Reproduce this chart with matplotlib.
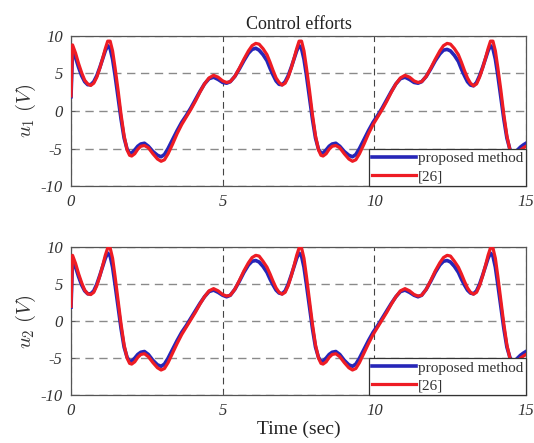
import matplotlib
matplotlib.use("Agg")
import matplotlib.pyplot as plt

plt.rcParams['mathtext.fontset'] = 'cm'
plt.rcParams['font.family'] = ['Liberation Serif', 'DejaVu Serif']

# time samples (s)
t = [0.00, 0.05, 0.15, 0.25, 0.35, 0.45, 0.55, 0.65, 0.75, 0.85, 0.95, 1.05, 1.13, 1.21, 1.29, 1.37,
     1.45, 1.55, 1.65, 1.75, 1.85, 1.93, 2.00, 2.10, 2.20, 2.30, 2.42, 2.55, 2.70, 2.85, 2.97, 3.08,
     3.20, 3.35, 3.50, 3.65, 3.80, 3.95, 4.10, 4.25, 4.40, 4.55, 4.70, 4.85, 5.00, 5.13, 5.25, 5.40,
     5.55, 5.70, 5.85, 5.97, 6.09, 6.20, 6.33,
     6.46, 6.56, 6.66, 6.76, 6.86, 6.96, 7.06, 7.16, 7.26, 7.36, 7.44, 7.52, 7.60, 7.68, 7.76, 7.86,
     7.96, 8.06, 8.16, 8.24, 8.31, 8.41, 8.51, 8.61, 8.73, 8.86, 9.01, 9.16, 9.28, 9.39, 9.51, 9.66,
     9.81, 9.96, 10.11, 10.26, 10.41, 10.56, 10.71, 10.86, 11.01, 11.16, 11.31, 11.44, 11.56, 11.71,
     11.86, 12.01, 12.16, 12.28, 12.40, 12.51, 12.64,
     12.77, 12.87, 12.97, 13.07, 13.17, 13.27, 13.37, 13.47, 13.57, 13.67, 13.75, 13.83, 13.91, 13.99,
     14.07, 14.17, 14.27, 14.37, 14.47, 14.55, 14.62, 14.72, 14.82, 14.92, 15.00]

u1_proposed = [1.9, 8.0, 7.1, 5.8, 4.7, 3.9, 3.5, 3.5, 3.9, 4.7, 5.8, 7.0, 8.0, 8.7, 8.3, 6.9,
               4.8, 1.9, -1.1, -3.6, -5.1, -5.6, -5.6, -5.2, -4.7, -4.4, -4.3, -4.7, -5.4, -5.9, -6.1, -5.8,
               -5.0, -3.8, -2.6, -1.5, -0.6, 0.4, 1.5, 2.6, 3.6, 4.3, 4.5, 4.2, 3.8, 3.7, 3.9, 4.6,
               5.6, 6.7, 7.7, 8.2, 8.35, 8.1, 7.5,
               6.7, 5.7, 4.8, 4.0, 3.55, 3.5, 3.9, 4.7, 5.8, 7.0, 8.0, 8.7, 8.3, 6.9, 4.8, 1.9,
               -1.1, -3.6, -5.1, -5.6, -5.6, -5.2, -4.7, -4.4, -4.3, -4.7, -5.4, -5.9, -6.1, -5.8, -5.0, -3.8,
               -2.6, -1.5, -0.6, 0.4, 1.5, 2.6, 3.6, 4.3, 4.5, 4.2, 3.8, 3.7, 3.9, 4.6,
               5.6, 6.7, 7.6, 8.1, 8.2, 8.0, 7.4,
               6.6, 5.6, 4.7, 3.9, 3.45, 3.35, 3.8, 4.7, 5.8, 7.0, 8.0, 8.7, 8.3, 6.9,
               4.8, 1.9, -1.1, -3.6, -5.1, -5.6, -5.6, -5.2, -4.8, -4.5, -4.3]

u1_ref26 = [2.0, 8.8, 7.7, 6.3, 5.1, 4.1, 3.6, 3.4, 3.7, 4.5, 5.7, 7.1, 8.3, 9.3, 9.3, 8.0,
            5.8, 2.8, -0.5, -3.3, -5.2, -5.9, -6.0, -5.7, -5.1, -4.7, -4.6, -4.9, -5.7, -6.4, -6.7, -6.5,
            -5.7, -4.4, -3.0, -1.8, -0.8, 0.2, 1.3, 2.5, 3.6, 4.4, 4.75, 4.5, 4.0, 3.8, 3.9, 4.6,
            5.7, 6.9, 8.0, 8.7, 9.0, 8.9, 8.3,
            7.5, 6.5, 5.4, 4.4, 3.8, 3.45, 3.7, 4.5, 5.7, 7.1, 8.3, 9.3, 9.3, 8.0, 5.8, 2.8,
            -0.5, -3.3, -5.2, -5.9, -6.0, -5.7, -5.1, -4.7, -4.6, -4.9, -5.7, -6.4, -6.7, -6.5, -5.7, -4.4,
            -3.0, -1.8, -0.8, 0.2, 1.3, 2.5, 3.6, 4.4, 4.75, 4.5, 4.0, 3.8, 3.9, 4.6,
            5.7, 6.9, 8.0, 8.7, 9.0, 8.9, 8.3,
            7.5, 6.5, 5.4, 4.4, 3.7, 3.35, 3.6, 4.5, 5.7, 7.1, 8.3, 9.3, 9.3, 8.0,
            5.8, 2.8, -0.5, -3.3, -5.2, -5.9, -6.0, -5.7, -5.2, -4.9, -4.7]

u2_proposed = [1.9, 8.2, 7.3, 6.0, 4.9, 4.1, 3.7, 3.7, 4.1, 5.0, 6.2, 7.5, 8.5, 9.2, 8.8, 7.3,
               5.0, 2.0, -1.0, -3.5, -4.9, -5.4, -5.4, -5.0, -4.5, -4.2, -4.1, -4.5, -5.3, -5.9, -6.1, -5.8,
               -5.0, -3.8, -2.6, -1.5, -0.6, 0.4, 1.4, 2.4, 3.3, 4.0, 4.2, 3.9, 3.5, 3.3, 3.5, 4.3,
               5.4, 6.6, 7.6, 8.1, 8.2, 8.0, 7.4,
               6.6, 5.7, 4.9, 4.2, 3.8, 3.7, 4.1, 5.0, 6.2, 7.5, 8.5, 9.2, 8.8, 7.3, 5.0, 2.0,
               -1.0, -3.5, -4.9, -5.4, -5.4, -5.0, -4.5, -4.2, -4.1, -4.5, -5.3, -5.9, -6.1, -5.8, -5.0, -3.8,
               -2.6, -1.5, -0.6, 0.4, 1.4, 2.4, 3.3, 4.0, 4.2, 3.9, 3.5, 3.3, 3.5, 4.3,
               5.4, 6.6, 7.6, 8.1, 8.2, 8.0, 7.4,
               6.6, 5.7, 4.9, 4.2, 3.8, 3.7, 4.1, 5.0, 6.2, 7.5, 8.5, 9.2, 8.8, 7.3,
               5.0, 2.0, -1.0, -3.5, -4.9, -5.4, -5.4, -5.0, -4.6, -4.3, -4.1]

u2_ref26 = [2.0, 8.9, 7.8, 6.4, 5.2, 4.2, 3.7, 3.6, 3.9, 4.8, 6.1, 7.6, 8.9, 9.9, 9.9, 8.5,
            6.1, 2.9, -0.4, -3.2, -5.0, -5.7, -5.8, -5.5, -4.9, -4.5, -4.4, -4.8, -5.6, -6.3, -6.6, -6.4,
            -5.6, -4.3, -3.0, -1.8, -0.8, 0.2, 1.2, 2.3, 3.3, 4.1, 4.4, 4.1, 3.6, 3.4, 3.5, 4.3,
            5.5, 6.8, 7.9, 8.6, 8.9, 8.8, 8.1,
            7.3, 6.4, 5.4, 4.5, 3.9, 3.65, 3.9, 4.8, 6.1, 7.6, 8.9, 9.9, 9.9, 8.5, 6.1, 2.9,
            -0.4, -3.2, -5.0, -5.7, -5.8, -5.5, -4.9, -4.5, -4.4, -4.8, -5.6, -6.3, -6.6, -6.4, -5.6, -4.3,
            -3.0, -1.8, -0.8, 0.2, 1.2, 2.3, 3.3, 4.1, 4.4, 4.1, 3.6, 3.4, 3.5, 4.3,
            5.5, 6.8, 7.9, 8.6, 8.9, 8.8, 8.1,
            7.3, 6.4, 5.4, 4.5, 3.9, 3.65, 3.9, 4.8, 6.1, 7.6, 8.9, 9.9, 9.9, 8.5,
            6.1, 2.9, -0.4, -3.2, -5.0, -5.7, -5.8, -5.5, -5.0, -4.7, -4.5]

x_ticks = [0, 5, 10, 15]
y_ticks = [-10, -5, 0, 5, 10]
series_names = ['proposed method', '[26]']
ylabels = [r'$u_1\ (V)$', r'$u_2\ (V)$']

BLUE = '#2626b8'
RED = '#ee1c24'

fig = plt.figure(figsize=(5.34, 4.43), dpi=100)
ax1 = fig.add_axes([0.133, 0.580, 0.852, 0.339])
ax2 = fig.add_axes([0.133, 0.108, 0.852, 0.334])

for ax, yb, yr, yl in [(ax1, u1_proposed, u1_ref26, ylabels[0]),
                       (ax2, u2_proposed, u2_ref26, ylabels[1])]:
    ax.plot(t, yb, color=BLUE, lw=2.6, label=series_names[0], solid_joinstyle='round', zorder=3)
    ax.plot(t, yr, color=RED, lw=2.3, label=series_names[1], solid_joinstyle='round', zorder=4)
    ax.set_xlim(0, 15)
    ax.set_ylim(-10, 10)
    ax.set_xticks(x_ticks)
    ax.set_yticks(y_ticks)
    ax.set_xticklabels([str(v) for v in x_ticks], fontstyle='italic', fontsize=12, color='#333333')
    ax.set_yticklabels([str(v) for v in y_ticks], fontstyle='italic', fontsize=12, color='#333333')
    ax.tick_params(direction='in', length=3, width=0.6, colors='#555555', pad=6, labelcolor='#333333')
    ax.grid(axis='y', color='#8a8a8a', linestyle=(0, (6, 4)), linewidth=1.0, zorder=1)
    ax.grid(axis='x', color='#444444', linestyle=(0, (6, 4)), linewidth=0.8, zorder=1)
    for s in ax.spines.values():
        s.set_color('#555555')
        s.set_linewidth(0.9)
    ax.set_ylabel(yl, fontsize=15, color='#333333', labelpad=2)
    leg = ax.legend(loc='lower right', borderaxespad=0, fancybox=False, framealpha=1,
                    edgecolor='#333333', fontsize=11, handlelength=2.9, borderpad=0.2,
                    labelspacing=0.25, handletextpad=0.1)
    leg.get_frame().set_linewidth(0.9)
    leg.set_zorder(10)
    for txt in leg.get_texts():
        txt.set_color('#333333')

ax1.set_title('Control efforts', fontsize=13, color='#222222', pad=5)
ax2.set_xlabel('Time (sec)', fontsize=14, color='#222222', labelpad=1)

fig.savefig('out.png', dpi=100)
